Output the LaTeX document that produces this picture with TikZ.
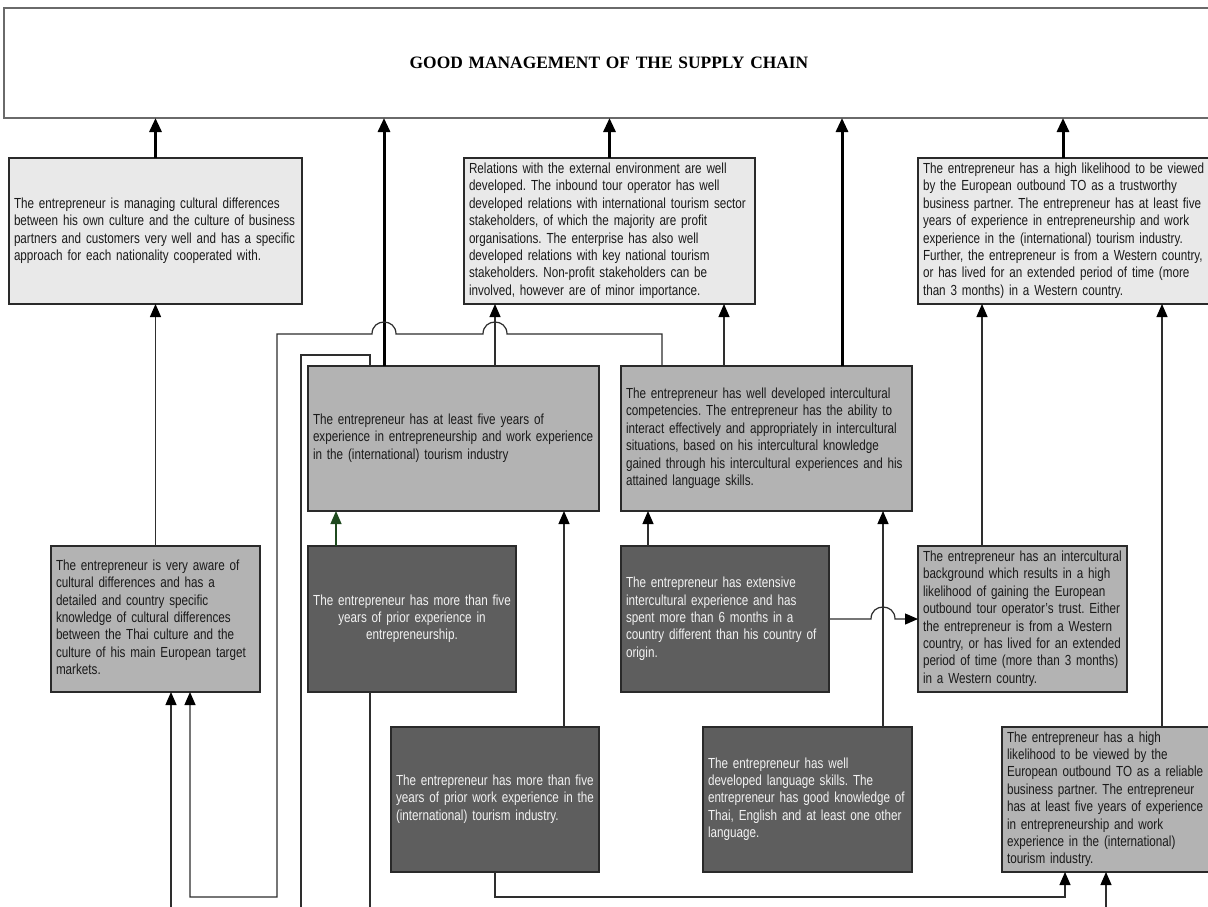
\documentclass[tikz,border=0pt]{standalone}
\usepackage{fontspec}
\setmainfont{Liberation Sans}[FakeStretch=0.80]
\newfontfamily\titlefont{Liberation Serif}
\usetikzlibrary{arrows.meta}
\frenchspacing
\definecolor{lightfill}{HTML}{E9E9E9}
\definecolor{midfill}{HTML}{B3B3B3}
\definecolor{darkfill}{HTML}{5E5E5E}
\definecolor{boxline}{HTML}{2A2A2A}
\definecolor{topline}{HTML}{6A6A6A}
\definecolor{bodytext}{HTML}{1A1A1A}
\definecolor{darktext}{HTML}{F2F2F2}
\definecolor{linecol}{HTML}{2E2E2E}
\definecolor{greenline}{HTML}{1F4A1F}
% one unbreakable block of pre-broken lines
\newcommand\boxlines[1]{\begin{tabular}{@{}l@{}}#1\end{tabular}}
\newcommand\boxclines[1]{\begin{tabular}{@{}c@{}}#1\end{tabular}}
\begin{document}
\begin{tikzpicture}[x=1pt,y=-1pt,
  box/.style={draw=boxline, line width=1.2pt, rectangle, anchor=north west,
    inner xsep=5pt, inner ysep=0pt, outer sep=0pt, align=left,
    font=\fontsize{14.6}{17.4}\selectfont\frenchspacing},
  lightbox/.style={box, fill=lightfill, text=bodytext},
  midbox/.style={box, fill=midfill, text=bodytext},
  darkbox/.style={box, fill=darkfill, text=darktext},
  conn/.style={draw=linecol, line width=1.2pt},
  arr/.style={conn, -{Triangle[length=13pt,width=11pt,color=black]}},
  greenarr/.style={conn, draw=greenline, -{Triangle[length=13pt,width=11pt]}},
  bigarr/.style={draw=black, line width=3pt, -{Triangle[length=14pt,width=12pt]}}]
\useasboundingbox (0,0) rectangle (1208,906);
\fill[white] (0,0) rectangle (1208,906);

% ---- goal ----
\node[box, fill=white, draw=topline, minimum width=1210pt, minimum height=110pt,
  text width=1200pt, align=center,
  font=\titlefont\bfseries\fontsize{17.4}{20}\selectfont] (top) at (4,8)
  {GOOD MANAGEMENT OF THE SUPPLY CHAIN};

% ---- first level ----
\node[lightbox, minimum width=293pt, minimum height=146pt, text width=283pt] (L1) at (9,158)
  {\boxlines{The entrepreneur is managing cultural differences\\between his own culture and the culture of business\\partners and customers very well and has a specific\\approach for each nationality cooperated with.}};
\node[lightbox, minimum width=291pt, minimum height=146pt, text width=281pt] (rel) at (464,158)
  {\boxlines{Relations with the external environment are well\\developed. The inbound tour operator has well\\developed relations with international tourism sector\\stakeholders, of which the majority are profit\\organisations. The enterprise has also well\\developed relations with key national tourism\\stakeholders. Non-profit stakeholders can be\\involved, however are of minor importance.}};
\node[lightbox, minimum width=320pt, minimum height=146pt, text width=310pt] (trust) at (918,158)
  {\boxlines{The entrepreneur has a high likelihood to be viewed\\by the European outbound TO as a trustworthy\\business partner. The entrepreneur has at least five\\years of experience in entrepreneurship and work\\experience in the (international) tourism industry.\\Further, the entrepreneur is from a Western country,\\or has lived for an extended period of time (more\\than 3 months) in a Western country.}};

% ---- second level ----
\node[midbox, minimum width=291pt, minimum height=145pt, text width=281pt] (exp) at (308,366)
  {\boxlines{The entrepreneur has at least five years of\\experience in entrepreneurship and work experience\\in the (international) tourism industry}};
\node[midbox, minimum width=291pt, minimum height=145pt, text width=281pt] (ic) at (621,366)
  {\boxlines{The entrepreneur has well developed intercultural\\competencies. The entrepreneur has the ability to\\interact effectively and appropriately in intercultural\\situations, based on his intercultural knowledge\\gained through his intercultural experiences and his\\attained language skills.}};

% ---- third level ----
\node[midbox, minimum width=209pt, minimum height=146pt, text width=199pt] (aware) at (51,546)
  {\boxlines{The entrepreneur is very aware of\\cultural differences and has a\\detailed and country specific\\knowledge of cultural differences\\between the Thai culture and the\\culture of his main European target\\markets.}};
\node[darkbox, align=center, minimum width=208pt, minimum height=146pt, text width=198pt] (dk1) at (308,546)
  {\boxclines{The entrepreneur has more than five\\years of prior experience in\\entrepreneurship.}};
\node[darkbox, minimum width=208pt, minimum height=146pt, text width=198pt] (dkx) at (621,546)
  {\boxlines{The entrepreneur has extensive\\intercultural experience and has\\spent more than 6 months in a\\country different than his country of\\origin.}};
\node[midbox, minimum width=209pt, minimum height=146pt, text width=199pt] (west) at (918,546)
  {\boxlines{The entrepreneur has an intercultural\\background which results in a high\\likelihood of gaining the European\\outbound tour operator’s trust. Either\\the entrepreneur is from a Western\\country, or has lived for an extended\\period of time (more than 3 months)\\in a Western country.}};

% ---- fourth level ----
\node[darkbox, minimum width=208pt, minimum height=145pt, text width=198pt] (tour) at (391,727)
  {\boxlines{The entrepreneur has more than five\\years of prior work experience in the\\(international) tourism industry.}};
\node[darkbox, minimum width=209pt, minimum height=145pt, text width=199pt] (lang) at (703,727)
  {\boxlines{The entrepreneur has well\\developed language skills. The\\entrepreneur has good knowledge of\\Thai, English and at least one other\\language.}};
\node[midbox, minimum width=240pt, minimum height=145pt, text width=230pt] (rel2) at (1002,727)
  {\boxlines{The entrepreneur has a high\\likelihood to be viewed by the\\European outbound TO as a reliable\\business partner. The entrepreneur\\has at least five years of experience\\in entrepreneurship and work\\experience in the (international)\\tourism industry.}};

% ---- loose ends leaving the page ----
\coordinate (qend) at (301,910);
\coordinate (send) at (370,910);
\coordinate (rstart) at (171,910);
\coordinate (ustart) at (1106,910);

% ---- links into the goal ----
\draw[bigarr] (L1.north) -- (L1.north |- top.south);
\draw[bigarr] (384,0 |- exp.north) -- (384,0 |- top.south);
\draw[bigarr] (rel.north) -- (rel.north |- top.south);
\draw[bigarr] (842,0 |- ic.north) -- (842,0 |- top.south);
\draw[bigarr] (1063,0 |- trust.north) -- (1063,0 |- top.south);

% ---- thin links ----
\draw[arr] (aware.north) -- (aware.north |- L1.south);
\draw[arr] (495,0 |- exp.north) -- (495,0 |- rel.south);
\draw[arr] (724,0 |- ic.north) -- (724,0 |- rel.south);
\draw[arr] (982,0 |- west.north) -- (982,0 |- trust.south);
\draw[arr] (1162,0 |- rel2.north) -- (1162,0 |- trust.south);
\draw[greenarr] (336,0 |- dk1.north) -- (336,0 |- exp.south);
\draw[arr] (564,0 |- tour.north) -- (564,0 |- exp.south);
\draw[arr] (648,0 |- dkx.north) -- (648,0 |- ic.south);
\draw[arr] (883,0 |- lang.north) -- (883,0 |- ic.south);

% experience abroad -> intercultural background, hopping the language line
\draw[arr] (dkx.east) -- (871,0 |- dkx.east) .. controls (871,603) and (895,603) .. (895,0 |- dkx.east) -- (west.west);

% intercultural competencies -> cultural awareness, around the left side
\draw[arr] (662,0 |- ic.north) -- (662,334) -- (507,334)
  .. controls (507,318) and (483,318) .. (483,334) -- (396,334)
  .. controls (396,318) and (372,318) .. (372,334) -- (277,334)
  -- (277,897) -- (190,897) -- (190,0 |- aware.south);

\draw[conn] (370,0 |- exp.north) -- (370,355) -- (301,355) -- (qend);
\draw[arr] (rstart) -- (171,0 |- aware.south);
\draw[conn] (370,0 |- dk1.south) -- (send);
\draw[arr] (495,0 |- tour.south) -- (495,897) -- (1065,897) -- (1065,0 |- rel2.south);
\draw[arr] (ustart) -- (1106,0 |- rel2.south);
\end{tikzpicture}
\end{document}
